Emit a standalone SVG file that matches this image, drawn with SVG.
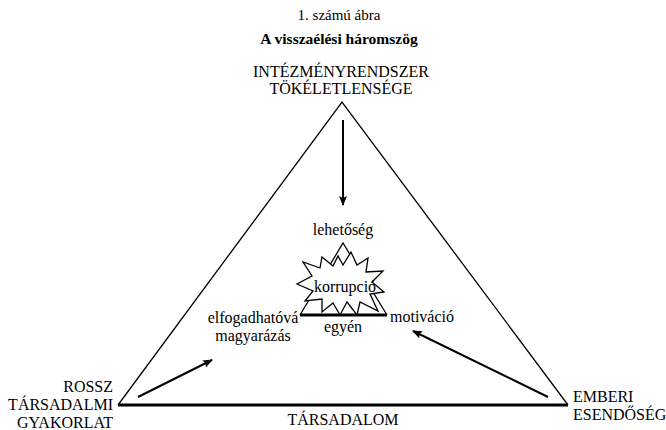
<svg xmlns="http://www.w3.org/2000/svg" width="666" height="430" viewBox="0 0 666 430">
<style>
text{font-family:'Liberation Serif','DejaVu Serif',serif;fill:#000}
.t{font-size:16px}
.s{font-size:16px}
.ln{stroke:#000;fill:none;stroke-width:1.3}
.burst{stroke:#000;fill:#fff;stroke-width:1.3}
.th{stroke:#000;stroke-width:3}
.ar{stroke:#000;stroke-width:2;fill:none}
</style>
<defs>
<marker id="ah" markerWidth="10" markerHeight="8" refX="9" refY="4" orient="auto" markerUnits="userSpaceOnUse">
<path d="M0,0 L10,4 L0,8 L2,4 Z" fill="#000"/>
</marker>
</defs>
<rect width="666" height="430" fill="#fff"/>
<g font-family="Liberation Serif, DejaVu Serif, serif">
<text x="339" y="20" font-size="15" text-anchor="middle">1. számú ábra</text>
<text x="339" y="44" font-size="15.5" font-weight="bold" text-anchor="middle">A visszaélési háromszög</text>
<g id="outer-triangle">
<path class="ln" d="M118,405 L342,102 L568,405"/>
<line class="th" x1="118" y1="405" x2="568" y2="405"/>
</g>
<g id="inst">
<text class="t" x="341" y="77" text-anchor="middle">INTÉZMÉNYRENDSZER</text>
<text class="t" x="341" y="94" text-anchor="middle">TÖKÉLETLENSÉGE</text>
</g>
<g id="rossz">
<text class="t" x="113" y="392" text-anchor="end">ROSSZ</text>
<text class="t" x="113" y="410" text-anchor="end">TÁRSADALMI</text>
<text class="t" x="113" y="428" text-anchor="end">GYAKORLAT</text>
</g>
<g id="emberi">
<text class="t" x="573" y="402">EMBERI</text>
<text class="t" x="573" y="420">ESENDŐSÉG</text>
</g>
<g id="tarsadalom">
<text class="t" x="343" y="425" text-anchor="middle">TÁRSADALOM</text>
</g>
<g id="connectors">
<line class="ar" x1="343" y1="120" x2="343" y2="205" marker-end="url(#ah)"/>
<line class="ar" x1="138" y1="397" x2="212" y2="360" marker-end="url(#ah)"/>
<line class="ar" x1="548" y1="397" x2="413" y2="331" marker-end="url(#ah)"/>
</g>
<g id="inner-triangle">
<path class="ln" d="M300,315 L343,243 L387,315"/>
<line class="th" x1="300" y1="315" x2="387" y2="315"/>
</g>
<g id="korrupcio">
<polygon class="burst" points="297,284 312,276 303,262 320,268 322,257 333,266 338,256 343,265 351,252 357,265 368,258 366,272 383,271 372,282 384,292 370,294 378,311 360,302 357,315 347,302 340,315 333,303 322,312 322,299 305,301 313,291"/>
<text class="s" x="345" y="292" text-anchor="middle">korrupció</text>
</g>
<g id="labels">
<text class="s" x="343" y="235" text-anchor="middle">lehetőség</text>
<text class="s" x="343" y="332" text-anchor="middle">egyén</text>
<text class="s" x="390" y="322">motiváció</text>
<text class="s" x="253" y="323" text-anchor="middle">elfogadhatóvá</text>
<text class="s" x="253" y="341" text-anchor="middle">magyarázás</text>
</g>
</g>
</svg>
